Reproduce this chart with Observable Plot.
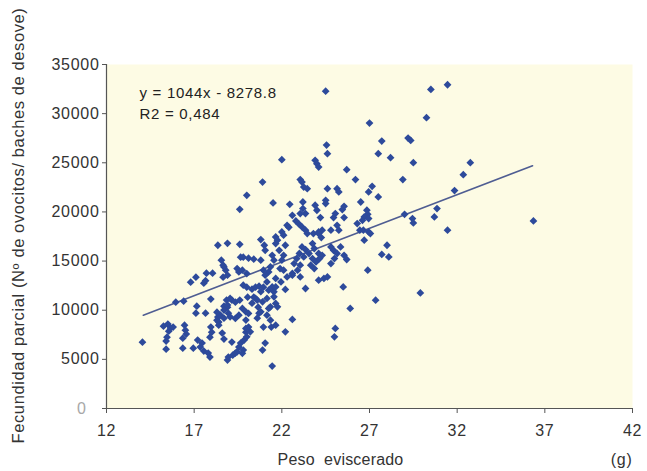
<!DOCTYPE html>
<html><head><meta charset="utf-8">
<script src="https://cdn.jsdelivr.net/npm/d3@7"></script>
<script src="https://cdn.jsdelivr.net/npm/@observablehq/plot@0.6"></script>
<style>
html,body{margin:0;padding:0;background:#fff;}
svg{display:block;}
svg text{letter-spacing:0.7px;}
</style></head><body><div id="chart"></div>
<script>
// Peso eviscerado (g)
const weight = [
14.05,15.25,15.5,15.65,15.8,15.55,15.4,15.4,15.45,15.95,16.4,16.35,16.35,16.45,16.5,16.55,16.8,17.1,16.95,17.15,17.1,17.2,
17.55,17.65,17.7,18.05,17.45,17.35,17.55,17.65,17.8,17.9,17.95,17.95,18.0,17.9,18.35,18.9,18.55,18.65,18.8,18.9,18.65,
18.35,18.5,18.7,18.4,18.3,18.9,18.95,18.85,19.15,19.35,19.6,18.7,19.15,19.55,19.8,19.65,18.95,19.2,19.35,18.6,18.7,
18.7,19.45,19.55,19.75,20.0,19.65,19.8,20.1,20.4,19.6,20.0,19.6,19.8,20.0,20.3,20.5,20.7,20.95,20.05,20.4,20.6,20.3,20.65,
19.95,20.1,19.95,20.6,20.7,20.95,21.4,21.65,20.9,21.05,21.45,
20.9,21.5,22.0,22.45,22.6,22.8,22.3,22.4,22.0,22.1,21.65,21.75,20.8,21.0,21.05,21.65,21.85,22.2,22.1,21.45,21.55,22.0,
21.35,21.25,20.95,21.05,21.9,22.1,22.3,22.6,21.65,21.95,21.15,21.45,21.55,21.25,22.2,21.15,21.55,21.65,21.35,21.75,20.9,
22.6,22.2,23.05,23.15,23.25,23.45,23.2,23.2,23.35,23.05,22.95,23.15,23.35,23.45,23.15,23.35,23.0,22.85,22.7,23.05,22.9,
22.6,23.05,23.35,20.8,20.5,19.05,18.9,18.7,19.75,19.95,20.1,19.55,19.35,19.05,18.3,18.4,20.8,21.15,21.35,21.25,
19.85,20.0,20.2,19.95,19.75,19.45,18.9,20.8,21.65,
24.55,24.6,23.9,24.0,24.1,24.5,25.7,26.2,24.6,25.15,25.25,25.55,25.45,24.5,24.5,23.9,24.0,25.05,24.95,25.55,25.15,25.25,
24.2,24.1,24.3,23.8,24.1,24.25,24.8,24.8,24.95,25.15,25.55,25.35,23.75,23.85,23.55,23.25,23.75,23.95,23.65,23.85,24.1,
24.3,24.15,24.1,24.4,24.6,24.8,25.0,25.7,25.5,25.9,25.05,25.0,
26.5,26.85,26.9,26.7,26.6,26.95,26.3,26.45,26.65,26.95,27.05,26.7,27.15,26.95,27.5,27.0,27.7,27.5,28.2,29.2,29.35,29.5,
28.9,30.25,30.5,31.45,31.85,32.75,32.35,31.45,36.35,29.0,29.45,29.5,30.7,30.85,28.0,27.7,28.1,26.9,27.35,29.9
];
// Fecundidad parcial (Nº de ovocitos / baches de desove)
const fecundity = [
6750,8380,8590,8180,8280,7870,6860,6040,7260,10820,10920,7160,6140,8480,7970,7570,12850,13360,6140,10410,9700,6960,
12750,13000,13770,13770,6660,6250,5840,9700,5640,5230,11130,8280,7770,7260,16610,16810,15090,14580,14070,13560,13360,
9300,9500,9190,8790,9800,10310,9700,11030,11030,10820,11030,10410,6760,6250,5940,6660,5230,5430,5640,7670,7060,
14400,14240,13900,14070,13730,15390,15390,15290,15190,20270,21690,16710,12550,12340,12140,12340,12440,12340,11330,11330,11030,10720,10310,
9000,8280,7770,9190,9700,8280,8280,8480,5940,6660,4320,
23040,20910,25320,20780,19660,19080,18640,18440,17960,17630,17450,17120,17190,16610,16100,16780,16100,16610,15590,15590,15090,15090,
14410,13900,14070,13560,14240,14070,13390,13740,13230,12880,12880,12370,11870,12040,12110,11200,11360,10690,10340,10340,10850,
9060,7800,23290,23040,22530,22370,21010,20340,19830,19830,18820,18470,18140,17800,16440,16170,15770,15260,14750,14580,14070,
13560,13390,12210,11890,11200,11200,10520,10010,10180,9840,9670,9500,9160,9330,8990,8480,9840,9500,8990,10180,
6960,7290,7800,8150,5610,5770,4930,15090,12370,
26800,25930,25250,24910,24570,32290,24300,23290,22370,22370,22030,20570,20240,21180,20850,20680,20170,19830,19430,19430,18640,18140,
19430,17960,18140,17800,17800,17390,18140,16440,16100,15770,15590,16440,16780,16280,15770,15420,15260,14910,14580,14240,15770,
15590,15260,13060,13230,13390,14750,15260,15160,12370,10180,8150,7290,
21010,20170,19760,19490,19150,19320,18820,18140,18140,17960,17800,17120,22610,22030,21520,29040,27210,25930,25520,27510,27280,25010,
23290,29590,32460,32940,22170,25010,23790,18140,19080,19760,19320,18880,19490,20340,16610,15670,15420,14070,11020,11760
];
const xTicks = [12, 17, 22, 27, 32, 37, 42];
const yTicks = [0, 5000, 10000, 15000, 20000, 25000, 30000, 35000];
// trend line as drawn in the picture (end points)
const trendX = [14.1, 36.3];
const trendY = [9500, 24700];
const equationLines = ["y = 1044x - 8278.8", "R2 = 0,484"];
const xLabel = "Peso  eviscerado";
const unitLabel = "(g)";
const yLabel = "Fecundidad parcial (Nº de ovocitos/ baches de desove)";

const points = weight.map((w, i) => ({w, f: fecundity[i]}));
const trend = trendX.map((x, i) => ({x, y: trendY[i]}));

const diamond = {
  draw(ctx, size) {
    const r = Math.sqrt(size / 2);
    ctx.moveTo(0, -r); ctx.lineTo(r, 0); ctx.lineTo(0, r); ctx.lineTo(-r, 0); ctx.closePath();
  }
};

const font = "'Liberation Sans', Arial, Helvetica, sans-serif";

const chart = Plot.plot({
  width: 647, height: 471,
  marginLeft: 106, marginRight: 15, marginTop: 64, marginBottom: 63,
  style: {fontFamily: font, background: "#fff"},
  x: {domain: [12, 42]},
  y: {domain: [0, 35000]},
  marks: [
    Plot.frame({fill: "#fdfbe4", stroke: null}),
    Plot.axisX({ticks: xTicks, tickSize: 5, tickPadding: 11, fontSize: 16, label: null, stroke: "#555", fill: "#333"}),
    Plot.axisY({ticks: yTicks, tickSize: 4, tickPadding: 3, fontSize: 16, label: null, stroke: "#555", fill: "#333", tickFormat: d3.format("d")}),
    Plot.ruleX([12], {stroke: "#555", strokeWidth: 1.2}),
    Plot.ruleY([0], {stroke: "#555", strokeWidth: 1.2}),
    Plot.line(trend, {x: "x", y: "y", stroke: "#4f5d92", strokeWidth: 1.6}),
    Plot.dot(points, {x: "w", y: "f", symbol: diamond, r: 3.1, fill: "#2d4a9b", stroke: null}),
    Plot.text([equationLines[0]], {frameAnchor: "top-left", dx: 33, dy: 33, lineAnchor: "bottom", textAnchor: "start", fontSize: 15, fill: "#222"}),
    Plot.text([equationLines[1]], {frameAnchor: "top-left", dx: 33, dy: 54, lineAnchor: "bottom", textAnchor: "start", fontSize: 15, fill: "#222"}),
    Plot.text([xLabel], {frameAnchor: "bottom", dx: -29, dy: 56, lineAnchor: "bottom", textAnchor: "middle", fontSize: 16, fill: "#333", className: "xlab"}),
    Plot.text([unitLabel], {frameAnchor: "bottom-right", dx: 0, dy: 56, lineAnchor: "bottom", textAnchor: "end", fontSize: 16, fill: "#333"}),
    Plot.text([yLabel], {frameAnchor: "left", dx: -88, dy: -11, rotate: -90, textAnchor: "middle", fontSize: 16.5, fill: "#333", className: "ylab"})
  ]
});

// the zero label in the picture is faded and set further left
d3.select(chart).selectAll("g[aria-label='y-axis tick label'] text").each(function() {
  if (this.textContent === "0") { d3.select(this).attr("fill", "#a8a8a8").attr("dx", -13); }
});
d3.select(chart).selectAll(".xlab text").style("letter-spacing", "0.2px");
d3.select(chart).selectAll(".ylab text").style("letter-spacing", "0.6px");

document.getElementById("chart").appendChild(chart);
</script></body></html>
